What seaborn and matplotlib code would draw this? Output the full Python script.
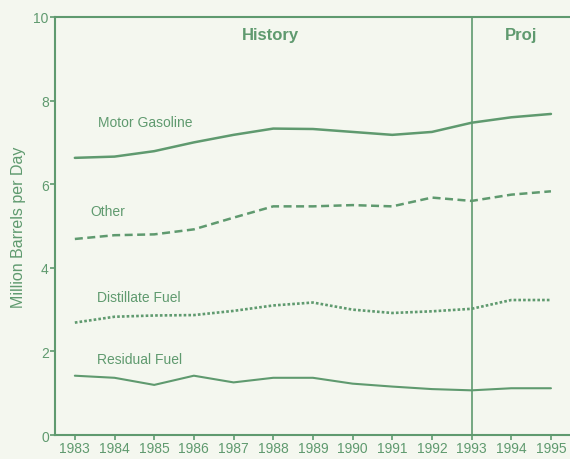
import matplotlib
matplotlib.use("Agg")
import matplotlib.pyplot as plt
import seaborn as sns
import pandas as pd

# Data
years = list(range(1983, 1996))
motor_gasoline = [6.63, 6.66, 6.79, 7.00, 7.18, 7.33, 7.32, 7.25, 7.18, 7.25, 7.47, 7.60, 7.68]
other = [4.69, 4.78, 4.80, 4.92, 5.20, 5.47, 5.47, 5.50, 5.47, 5.68, 5.60, 5.75, 5.83]
distillate_fuel = [2.69, 2.83, 2.86, 2.87, 2.97, 3.10, 3.17, 3.00, 2.92, 2.96, 3.02, 3.23, 3.23]
residual_fuel = [1.42, 1.37, 1.20, 1.42, 1.26, 1.37, 1.37, 1.23, 1.16, 1.10, 1.07, 1.12, 1.12]

series_names = ["Motor Gasoline", "Other", "Distillate Fuel", "Residual Fuel"]
series_values = [motor_gasoline, other, distillate_fuel, residual_fuel]
projection_start = 1993

green = "#5f9a6f"
bg = "#f4f7ef"

sns.set_theme(style="white")
plt.rcParams["font.family"] = ["Liberation Sans", "DejaVu Sans"]

fig = plt.figure(figsize=(5.7, 4.6), dpi=100, facecolor=bg)
ax = fig.add_axes([0.0965, 0.052, 0.9035, 0.909])
ax.set_facecolor(bg)

# Line styles per series
styles = {
    "Motor Gasoline": dict(linestyle="-", linewidth=1.8),
    "Other": dict(linestyle=(0, (3.2, 1.8)), linewidth=1.8),
    "Distillate Fuel": dict(linestyle=(0, (1.0, 0.8)), linewidth=1.9),
    "Residual Fuel": dict(linestyle="-", linewidth=1.5),
}

for name, vals in zip(series_names, series_values):
    df = pd.DataFrame({"year": years, "value": vals})
    sns.lineplot(data=df, x="year", y="value", ax=ax, color=green, **styles[name])

# Series labels
label_pos = {
    "Motor Gasoline": (1983.58, 7.48),
    "Other": (1983.38, 5.35),
    "Distillate Fuel": (1983.55, 3.30),
    "Residual Fuel": (1983.55, 1.82),
}
for name, (lx, ly) in label_pos.items():
    ax.text(lx, ly, name, color=green, fontsize=10, va="center", ha="left")

# History / projection divider
ax.axvline(projection_start, color=green, linewidth=1.2)
ax.text(1987.92, 9.58, "History", color=green, fontsize=12, fontweight="bold",
        ha="center", va="center")
ax.text(1994.24, 9.58, "Proj", color=green, fontsize=12, fontweight="bold",
        ha="center", va="center")

# Axes
ax.set_xlim(1982.5, 1995.48)
ax.set_ylim(0, 10)
ax.set_xticks(years)
ax.set_xticklabels([str(y) for y in years])
ax.set_yticks([0, 2, 4, 6, 8, 10])
ax.set_xlabel("")
ax.set_ylabel("Million Barrels per Day", color=green, fontsize=11.5, labelpad=5)

for side in ["left", "bottom", "top"]:
    ax.spines[side].set_color(green)
    ax.spines[side].set_linewidth(1.5)
ax.spines["right"].set_visible(False)

ax.tick_params(axis="both", colors=green, labelcolor=green, labelsize=10,
               direction="out", length=3.5, width=1.2, pad=1)
ax.tick_params(axis="x", bottom=True, pad=1)
ax.tick_params(axis="y", left=True)

fig.savefig("out.png", dpi=100, facecolor=bg)
